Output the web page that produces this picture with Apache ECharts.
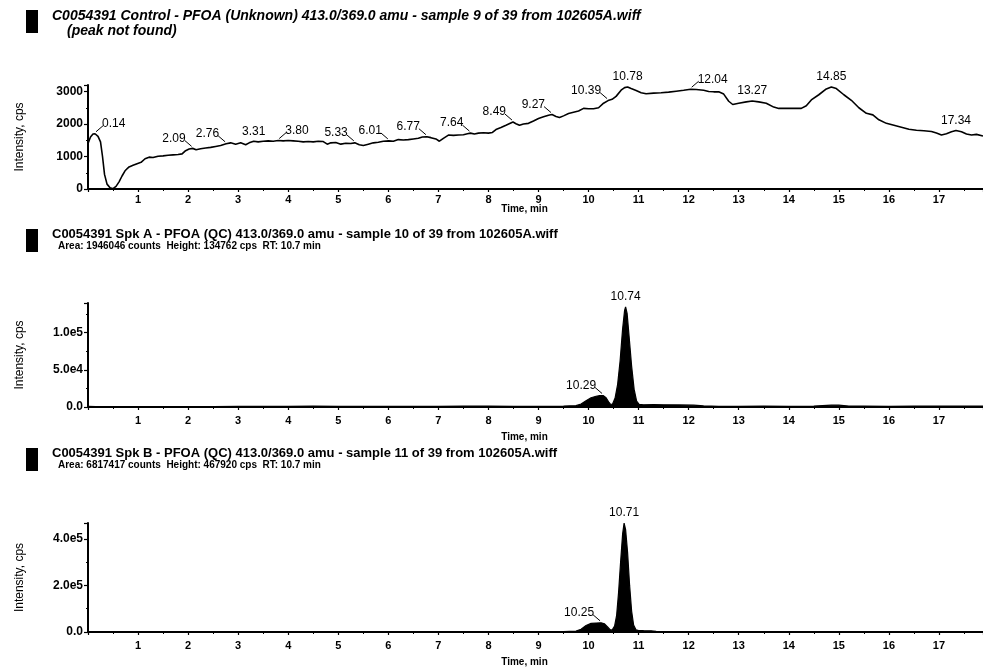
<!DOCTYPE html>
<html>
<head>
<meta charset="utf-8">
<script src="https://cdn.jsdelivr.net/npm/echarts@6/dist/echarts.min.js"></script>
<style>
  html, body { margin: 0; padding: 0; background: #fff; }
  #chart { width: 983px; height: 669px; }
</style>
</head>
<body>
<div id="chart"></div>
<script>
// ---- Chromatogram data: [time (min), intensity (cps)] ----
const controlTrace = [
  [0.00,1400],[0.05,1600],[0.10,1690],[0.14,1700],[0.20,1620],[0.25,1450],[0.29,1000],[0.33,450],
  [0.38,150],[0.44,40],[0.50,10],[0.56,80],[0.62,220],[0.68,400],[0.74,560],[0.82,680],[0.90,730],
  [0.98,780],[1.06,820],[1.14,930],[1.22,980],[1.30,970],[1.40,1010],[1.50,1020],[1.60,1040],
  [1.70,1050],[1.80,1060],[1.88,1080],[1.95,1180],[2.02,1230],[2.09,1250],[2.16,1210],[2.25,1240],
  [2.35,1260],[2.45,1280],[2.55,1310],[2.65,1340],[2.76,1390],[2.85,1420],[2.95,1380],[3.05,1420],
  [3.15,1360],[3.22,1420],[3.31,1470],[3.40,1450],[3.50,1470],[3.60,1480],[3.70,1470],[3.80,1490],
  [3.90,1480],[4.00,1490],[4.10,1480],[4.20,1470],[4.30,1450],[4.40,1460],[4.50,1450],[4.60,1470],
  [4.70,1460],[4.78,1380],[4.85,1420],[4.95,1430],[5.05,1380],[5.15,1410],[5.25,1400],[5.33,1420],
  [5.42,1360],[5.50,1340],[5.60,1380],[5.70,1420],[5.80,1440],[5.90,1470],[6.01,1480],[6.10,1470],
  [6.20,1520],[6.30,1510],[6.40,1520],[6.50,1540],[6.60,1560],[6.68,1600],[6.77,1610],[6.85,1580],
  [6.95,1540],[7.02,1470],[7.10,1560],[7.20,1660],[7.30,1650],[7.40,1660],[7.50,1670],[7.58,1700],
  [7.64,1720],[7.72,1690],[7.80,1720],[7.90,1730],[8.00,1720],[8.08,1740],[8.15,1830],[8.25,1890],
  [8.35,1960],[8.49,2060],[8.55,2010],[8.62,1960],[8.70,2000],[8.80,2020],[8.90,2090],[9.00,2170],
  [9.10,2220],[9.20,2270],[9.27,2290],[9.35,2230],[9.42,2200],[9.50,2250],[9.60,2320],[9.70,2360],
  [9.80,2400],[9.90,2480],[10.00,2470],[10.10,2470],[10.20,2500],[10.30,2640],[10.39,2720],
  [10.47,2760],[10.55,2850],[10.65,3040],[10.72,3120],[10.78,3140],[10.85,3090],[10.95,3030],
  [11.05,2960],[11.15,2930],[11.30,2950],[11.45,2960],[11.60,2980],[11.75,3010],[11.90,3040],
  [12.04,3070],[12.15,3060],[12.30,3040],[12.40,3000],[12.50,2990],[12.60,2990],[12.70,2920],
  [12.80,2700],[12.88,2600],[13.00,2640],[13.15,2680],[13.27,2710],[13.40,2680],[13.55,2640],
  [13.70,2520],[13.80,2480],[14.00,2480],[14.25,2480],[14.35,2560],[14.45,2740],[14.60,2900],
  [14.75,3080],[14.85,3140],[14.95,3090],[15.10,2900],[15.25,2730],[15.40,2500],[15.55,2330],
  [15.68,2280],[15.80,2130],[15.95,2020],[16.10,1960],[16.25,1900],[16.40,1840],[16.55,1810],
  [16.70,1790],[16.85,1770],[16.95,1720],[17.05,1660],[17.15,1700],[17.25,1760],[17.34,1800],
  [17.45,1760],[17.55,1690],[17.65,1660],[17.75,1680],[17.88,1630]
];
const spkATrace = [
  [0.00,800],[0.30,300],[0.60,500],[1.00,400],[1.50,500],[2.00,400],[2.50,600],[3.00,900],[3.50,1000],
  [4.00,900],[4.50,1100],[5.00,900],[5.50,1000],[6.00,800],[6.50,1000],[7.00,900],[7.50,1100],
  [8.00,1200],[8.50,1000],[9.00,900],[9.50,1200],[9.75,1800],[9.85,4000],[9.95,8500],[10.05,12500],
  [10.15,14500],[10.22,15200],[10.29,15500],[10.35,12500],[10.40,7000],[10.44,3500],[10.48,4000],
  [10.53,12000],[10.58,30000],[10.63,62000],[10.68,105000],[10.72,130000],[10.74,134762],
  [10.77,126000],[10.81,95000],[10.86,55000],[10.91,24000],[10.96,8000],[11.01,3500],[11.10,3000],
  [11.30,3200],[11.50,3000],[11.80,2800],[12.10,2500],[12.30,1500],[12.60,1000],[13.00,900],
  [13.50,1100],[14.00,1000],[14.50,1200],[14.85,2500],[15.00,2400],[15.20,1200],[15.50,1300],
  [16.00,900],[16.50,1100],[17.00,1200],[17.50,1300],[17.88,1200]
];
const spkBTrace = [
  [0.00,1500],[0.30,800],[0.60,1000],[1.00,900],[1.50,1200],[2.00,1400],[2.50,1200],[3.00,1300],
  [3.50,1200],[4.00,1100],[4.50,1300],[5.00,1600],[5.50,1200],[6.00,1100],[6.50,1300],[7.00,1700],
  [7.50,1500],[8.00,1200],[8.50,1300],[9.00,1400],[9.50,2000],[9.75,4000],[9.85,12000],[9.95,28000],
  [10.05,37000],[10.15,38500],[10.25,39500],[10.32,35000],[10.38,22000],[10.43,10000],[10.47,8000],
  [10.52,25000],[10.56,70000],[10.60,170000],[10.64,300000],[10.68,420000],[10.71,467920],
  [10.74,440000],[10.78,340000],[10.82,200000],[10.86,90000],[10.90,30000],[10.95,9000],[11.00,6000],
  [11.10,5500],[11.25,5000],[11.35,2500],[11.60,1500],[12.00,1200],[12.50,1000],[13.00,1100],
  [13.50,1600],[14.00,1300],[14.50,1200],[15.00,1400],[15.50,1600],[16.00,1300],[16.50,1200],
  [17.00,1500],[17.50,1300],[17.88,1200]
];

// ---- Retention times annotated on each trace ----
const controlPeaks = [0.14, 2.09, 2.76, 3.31, 3.80, 5.33, 6.01, 6.77, 7.64, 8.49, 9.27, 10.39, 10.78, 12.04, 13.27, 14.85, 17.34];
const spkAPeaks = [10.29, 10.74];
const spkBPeaks = [10.25, 10.71];

// ---- Panel headings ----
const headings = [
  ['C0054391 Control - PFOA (Unknown) 413.0/369.0 amu - sample 9 of 39 from 102605A.wiff', '(peak not found)'],
  ['C0054391 Spk A - PFOA (QC) 413.0/369.0 amu - sample 10 of 39 from 102605A.wiff', 'Area: 1946046 counts  Height: 134762 cps  RT: 10.7 min'],
  ['C0054391 Spk B - PFOA (QC) 413.0/369.0 amu - sample 11 of 39 from 102605A.wiff', 'Area: 6817417 counts  Height: 467920 cps  RT: 10.7 min']
];

// Which side each retention-time label sits on relative to its point
const labelSide = {
  '0.14': 'right', '3.31': 'top', '3.80': 'right', '10.78': 'top', '12.04': 'right',
  '13.27': 'top', '14.85': 'top', '17.34': 'top', '10.74': 'top', '10.71': 'top'
};

const FONT = 'Arial, "Liberation Sans", sans-serif';
const X_MAX = 17.88;

function valueAt(trace, t) {
  for (let i = 1; i < trace.length; i++) {
    if (trace[i][0] >= t) {
      const a = trace[i - 1], b = trace[i];
      const f = (t - a[0]) / (b[0] - a[0]);
      return a[1] + f * (b[1] - a[1]);
    }
  }
  return trace[trace.length - 1][1];
}

function sci(v) {
  if (v === 0) return '0.0';
  const e = Math.floor(Math.log10(v));
  return (v / Math.pow(10, e)).toFixed(1) + 'e' + e;
}

const grids = [
  { left: 88, top: 85, width: 895, height: 104 },
  { left: 88, top: 303, width: 895, height: 104 },
  { left: 88, top: 523, width: 895, height: 109 }
];
const timeNameGaps = [15, 25, 25];
const tickLabelMargins = [5, 8, 8];

const axisLineStyle = { color: '#000', width: 2 };

const xAxes = grids.map((g, i) => ({
  type: 'value', gridIndex: i, min: 0, max: X_MAX, interval: 1,
  axisLine: { show: true, onZero: false, lineStyle: axisLineStyle },
  axisTick: { show: true, length: 3, lineStyle: { color: '#000', width: 1.2 } },
  minorTick: { show: true, splitNumber: 2, length: 2, lineStyle: { color: '#000' } },
  splitLine: { show: false },
  axisLabel: {
    color: '#000', fontSize: 11, fontWeight: 'bold', fontFamily: FONT, margin: tickLabelMargins[i],
    showMinLabel: false, showMaxLabel: false,
    formatter: v => (Number.isInteger(v) && v > 0 ? String(v) : '')
  },
  name: 'Time, min', nameLocation: 'middle', nameGap: timeNameGaps[i], nameMoveOverlap: false,
  nameTextStyle: { color: '#000', fontSize: 10, fontWeight: 'bold', fontFamily: FONT, padding: [0, 22, 0, 0] }
}));

const yRanges = [
  { max: 3200, interval: 1000, fmt: v => (v % 1000 === 0 ? String(v) : '') },
  { max: 140000, interval: 50000, fmt: v => (v % 50000 === 0 ? sci(v) : '') },
  { max: 468000, interval: 200000, fmt: v => (v % 200000 === 0 ? sci(v) : '') }
];

const yAxes = yRanges.map((r, i) => ({
  type: 'value', gridIndex: i, min: 0, max: r.max, interval: r.interval,
  axisLine: { show: true, lineStyle: axisLineStyle },
  axisTick: { show: true, length: 4, lineStyle: { color: '#000', width: 1.2 } },
  minorTick: { show: true, splitNumber: 2, length: 2, lineStyle: { color: '#000' } },
  splitLine: { show: false },
  axisLabel: { color: '#000', fontSize: 12, fontWeight: 'bold', fontFamily: FONT, margin: 5, showMaxLabel: false, formatter: r.fmt },
  name: 'Intensity, cps', nameLocation: 'middle', nameGap: 62,
  nameTextStyle: { color: '#000', fontSize: 12, fontFamily: FONT }
}));

function traceSeries(trace, i, filled) {
  return {
    type: 'line', xAxisIndex: i, yAxisIndex: i, data: trace,
    showSymbol: false, symbol: 'none', smooth: false, silent: true,
    lineStyle: { color: '#000', width: filled ? 1.2 : 1.6 },
    areaStyle: filled ? { color: '#000', opacity: 1 } : undefined,
    z: 2
  };
}

function labelSeries(trace, times, i) {
  return {
    type: 'custom', xAxisIndex: i, yAxisIndex: i, silent: true, z: 5,
    data: times.map(t => [t, valueAt(trace, t)]),
    renderItem: (params, api) => {
      const t = api.value(0);
      const p = api.coord([t, api.value(1)]);
      const txt = t.toFixed(2);
      const side = labelSide[txt] || 'left';
      const textStyle = { text: txt, fill: '#000', font: '12px ' + FONT, verticalAlign: 'bottom' };
      const children = [];
      if (side === 'top') {
        children.push({ type: 'text', style: Object.assign({ x: p[0], y: p[1] - 4, align: 'center' }, textStyle) });
      } else if (side === 'left') {
        children.push({ type: 'text', style: Object.assign({ x: p[0] - 7, y: p[1] - 4, align: 'right' }, textStyle) });
        children.push({ type: 'line', shape: { x1: p[0] - 8, y1: p[1] - 8, x2: p[0] - 1, y2: p[1] - 2 }, style: { stroke: '#000', lineWidth: 1 } });
      } else {
        children.push({ type: 'text', style: Object.assign({ x: p[0] + 7, y: p[1] - 4, align: 'left' }, textStyle) });
        children.push({ type: 'line', shape: { x1: p[0] + 1, y1: p[1] - 2, x2: p[0] + 8, y2: p[1] - 8 }, style: { stroke: '#000', lineWidth: 1 } });
      }
      return { type: 'group', children };
    }
  };
}

// Panel headings: marker block plus two text lines
const headingTops = [9, 228, 447];
const graphic = [];
headings.forEach((h, i) => {
  const top = headingTops[i];
  graphic.push({ type: 'rect', left: 26, top: top + 1, shape: { width: 12, height: 23 }, style: { fill: '#000' } });
  const firstFont = i === 0 ? 'italic bold 14px ' + FONT : 'normal bold 13px ' + FONT;
  const secondFont = i === 0 ? 'italic bold 14px ' + FONT : 'normal bold 10px ' + FONT;
  graphic.push({ type: 'text', left: 52, top: top, style: { text: h[0], fill: '#000', font: firstFont } });
  graphic.push({
    type: 'text', left: i === 0 ? 67 : 58, top: top + (i === 0 ? 15 : 13),
    style: { text: h[1], fill: '#000', font: secondFont }
  });
});

const chart = echarts.init(document.getElementById('chart'), null, { renderer: 'canvas' });
chart.setOption({
  backgroundColor: '#fff',
  animation: false,
  grid: grids,
  xAxis: xAxes,
  yAxis: yAxes,
  graphic: graphic,
  series: [
    traceSeries(controlTrace, 0, false),
    traceSeries(spkATrace, 1, true),
    traceSeries(spkBTrace, 2, true),
    labelSeries(controlTrace, controlPeaks, 0),
    labelSeries(spkATrace, spkAPeaks, 1),
    labelSeries(spkBTrace, spkBPeaks, 2)
  ]
});
</script>
</body>
</html>
